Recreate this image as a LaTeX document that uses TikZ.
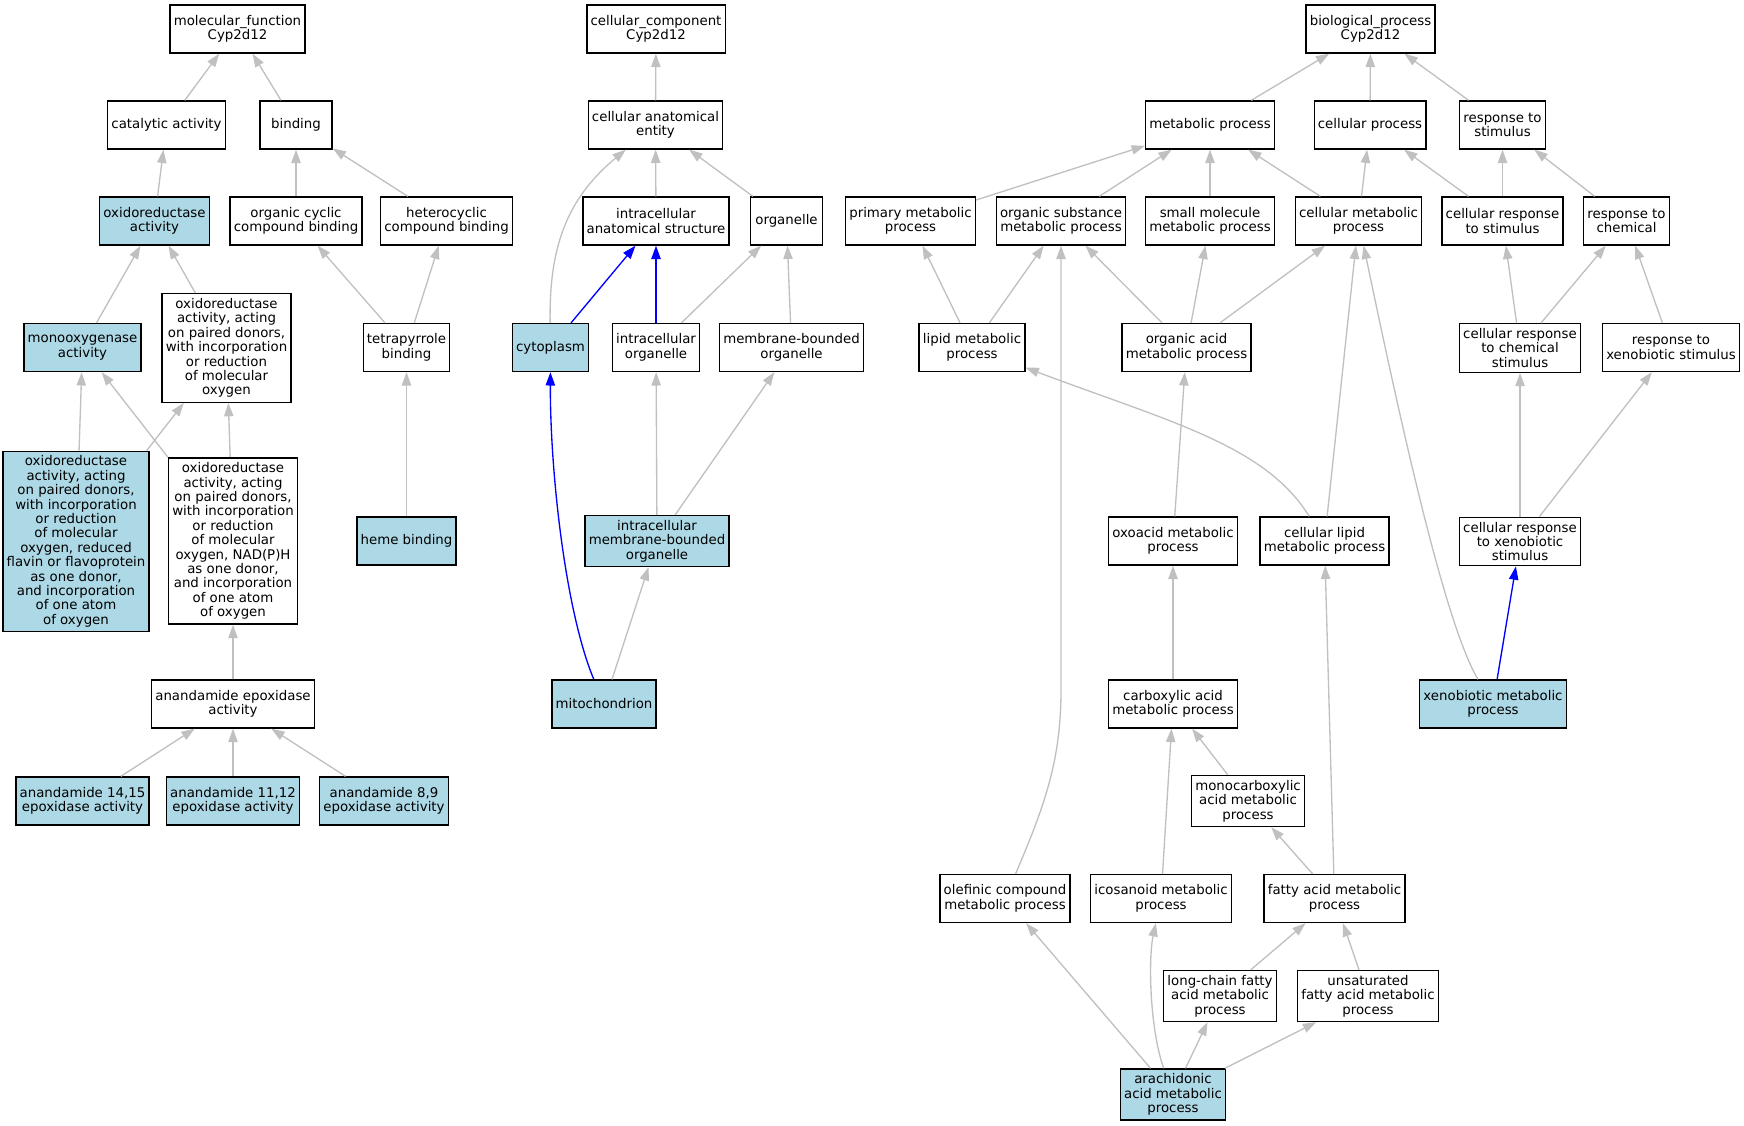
\documentclass[tikz,border=0pt]{standalone}
\usepackage{fontspec}
\setmainfont{DejaVu Sans}
\usetikzlibrary{arrows.meta}
\definecolor{hitblue}{HTML}{ADD8E6}
\definecolor{isagray}{HTML}{C0C0C0}
\begin{document}
\begin{tikzpicture}[
    x=0.75pt, y=-0.75pt,
    term/.style={draw=black, line width=1pt, rectangle, align=center, inner xsep=2.8pt, inner ysep=3.5pt,
      minimum width=54pt, minimum height=36pt, font=\fontsize{10}{10.8}\selectfont},
    hit/.style={term, fill=hitblue},
    isa/.style={draw=isagray, line width=1pt, -{Triangle[length=10pt,width=7pt]}},
    hot/.style={isa, draw=blue}
    ]
    \useasboundingbox (0,0) rectangle (1744,1125);
    % molecular function
    \node[term] (mf) at (237.5,29) {molecular\_function\\Cyp2d12};
    \node[term] (cat) at (166.5,125) {catalytic activity};
    \node[term] (bind) at (296,125) {binding};
    \node[hit] (oxred) at (154.5,221) {oxidoreductase\\activity};
    \node[term] (occb) at (296,221) {organic cyclic\\compound binding};
    \node[term] (hcb) at (446.5,221) {heterocyclic\\compound binding};
    \node[hit] (mono) at (82.5,347.5) {monooxygenase\\activity};
    \node[term] (oxpair) at (226.5,348) {oxidoreductase\\activity, acting\\on paired donors,\\with incorporation\\or reduction\\of molecular\\oxygen};
    \node[term] (tetra) at (406.5,347.5) {tetrapyrrole\\binding};
    \node[hit] (oxflav) at (76,541.5) {oxidoreductase\\activity, acting\\on paired donors,\\with incorporation\\or reduction\\of molecular\\oxygen, reduced\\flavin or flavoprotein\\as one donor,\\and incorporation\\of one atom\\of oxygen};
    \node[term] (oxnad) at (233,541) {oxidoreductase\\activity, acting\\on paired donors,\\with incorporation\\or reduction\\of molecular\\oxygen, NAD(P)H\\as one donor,\\and incorporation\\of one atom\\of oxygen};
    \node[hit] (heme) at (406.5,541) {heme binding};
    \node[term] (aepox) at (233,704) {anandamide epoxidase\\activity};
    \node[hit] (a1415) at (82.5,801) {anandamide 14,15\\epoxidase activity};
    \node[hit] (a1112) at (233,801) {anandamide 11,12\\epoxidase activity};
    \node[hit] (a89) at (384,801) {anandamide 8,9\\epoxidase activity};
    % cellular component
    \node[term] (cc) at (656,29) {cellular\_component\\Cyp2d12};
    \node[term] (cae) at (655.5,125) {cellular anatomical\\entity};
    \node[term] (ias) at (656,221) {intracellular\\anatomical structure};
    \node[term] (org) at (786.5,221) {organelle};
    \node[hit] (cyto) at (550.5,347.5) {cytoplasm};
    \node[term] (iorg) at (656,347.5) {intracellular\\organelle};
    \node[term] (mbo) at (791.5,347.5) {membrane-bounded\\organelle};
    \node[hit] (imbo) at (657,541) {intracellular\\membrane-bounded\\organelle};
    \node[hit] (mito) at (604,704) {mitochondrion};
    % biological process
    \node[term] (bp) at (1370.5,29) {biological\_process\\Cyp2d12};
    \node[term] (met) at (1210,125) {metabolic process};
    \node[term] (cp) at (1370,125) {cellular process};
    \node[term] (rts) at (1502.5,125) {response to\\stimulus};
    \node[term] (pmp) at (910.5,221) {primary metabolic\\process};
    \node[term] (osmp) at (1061,221) {organic substance\\metabolic process};
    \node[term] (smmp) at (1210,221) {small molecule\\metabolic process};
    \node[term] (cmp) at (1358.5,221) {cellular metabolic\\process};
    \node[term] (crs) at (1502.5,221) {cellular response\\to stimulus};
    \node[term] (rtc) at (1626.5,221) {response to\\chemical};
    \node[term] (lmp) at (972,347.5) {lipid metabolic\\process};
    \node[term] (oamp) at (1186.5,347.5) {organic acid\\metabolic process};
    \node[term] (crcs) at (1520,348) {cellular response\\to chemical\\stimulus};
    \node[term] (rtxs) at (1671,347.5) {response to\\xenobiotic stimulus};
    \node[term] (oxo) at (1173,541) {oxoacid metabolic\\process};
    \node[term] (clmp) at (1324.5,541) {cellular lipid\\metabolic process};
    \node[term] (crxs) at (1520,541.5) {cellular response\\to xenobiotic\\stimulus};
    \node[term] (carb) at (1173,704) {carboxylic acid\\metabolic process};
    \node[hit] (xmp) at (1493,704) {xenobiotic metabolic\\process};
    \node[term] (monoc) at (1248,801) {monocarboxylic\\acid metabolic\\process};
    \node[term] (olef) at (1005,898.5) {olefinic compound\\metabolic process};
    \node[term] (icos) at (1161,898.5) {icosanoid metabolic\\process};
    \node[term] (fatty) at (1334.5,898.5) {fatty acid metabolic\\process};
    \node[term] (lcfa) at (1220,996) {long-chain fatty\\acid metabolic\\process};
    \node[term] (unsat) at (1368,996) {unsaturated\\fatty acid metabolic\\process};
    \node[hit] (arach) at (1173,1094.5) {arachidonic\\acid metabolic\\process};
    % is_a edges
    \draw[isa] (cat) -- (mf);
    \draw[isa] (bind) -- (mf);
    \draw[isa] (oxred) -- (cat);
    \draw[isa] (occb) -- (bind);
    \draw[isa] (hcb) -- (bind);
    \draw[isa] (mono) -- (oxred);
    \draw[isa] (oxpair) -- (oxred);
    \draw[isa] (tetra) -- (occb);
    \draw[isa] (tetra) -- (hcb);
    \draw[isa] (oxflav) -- (mono);
    \draw[isa] (oxflav) -- (oxpair);
    \draw[isa] (oxnad) -- (mono);
    \draw[isa] (oxnad) -- (oxpair);
    \draw[isa] (heme) -- (tetra);
    \draw[isa] (aepox) -- (oxnad);
    \draw[isa] (a1415) -- (aepox);
    \draw[isa] (a1112) -- (aepox);
    \draw[isa] (a89) -- (aepox);
    \draw[isa] (cae) -- (cc);
    \draw[isa] (ias) -- (cae);
    \draw[isa] (org) -- (cae);
    \draw[isa] (cyto) .. controls (549,250) and (565,200) .. (cae);
    \draw[hot] (cyto) -- (ias);
    \draw[hot] (iorg) -- (ias);
    \draw[isa] (iorg) -- (org);
    \draw[isa] (mbo) -- (org);
    \draw[isa] (imbo) -- (iorg);
    \draw[isa] (imbo) -- (mbo);
    \draw[hot] (mito) .. controls (565,610) and (550,470) .. (cyto);
    \draw[isa] (mito) -- (imbo);
    \draw[isa] (met) -- (bp);
    \draw[isa] (cp) -- (bp);
    \draw[isa] (rts) -- (bp);
    \draw[isa] (pmp) -- (met);
    \draw[isa] (osmp) -- (met);
    \draw[isa] (smmp) -- (met);
    \draw[isa] (cmp) -- (met);
    \draw[isa] (cmp) -- (cp);
    \draw[isa] (crs) -- (cp);
    \draw[isa] (crs) -- (rts);
    \draw[isa] (rtc) -- (rts);
    \draw[isa] (lmp) -- (pmp);
    \draw[isa] (lmp) -- (osmp);
    \draw[isa] (oamp) -- (osmp);
    \draw[isa] (oamp) -- (smmp);
    \draw[isa] (oamp) -- (cmp);
    \draw[isa] (crcs) -- (crs);
    \draw[isa] (crcs) -- (rtc);
    \draw[isa] (rtxs) -- (rtc);
    \draw[isa] (olef) .. controls (1045,805) and (1061,760) .. (1061,690) -- (osmp);
    \draw[isa] (oxo) -- (oamp);
    \draw[isa] (clmp) .. controls (1265,445) and (1170,422) .. (lmp);
    \draw[isa] (clmp) -- (cmp);
    \draw[isa] (xmp) .. controls (1445,625) and (1400,420) .. (cmp);
    \draw[isa] (crxs) -- (crcs);
    \draw[isa] (crxs) -- (rtxs);
    \draw[hot] (xmp) -- (crxs);
    \draw[isa] (carb) -- (oxo);
    \draw[isa] (icos) -- (carb);
    \draw[isa] (monoc) -- (carb);
    \draw[isa] (fatty) -- (monoc);
    \draw[isa] (fatty) -- (clmp);
    \draw[isa] (lcfa) -- (fatty);
    \draw[isa] (unsat) -- (fatty);
    \draw[isa] (arach) -- (olef);
    \draw[isa] (arach) .. controls (1150,1030) and (1148,960) .. (icos);
    \draw[isa] (arach) -- (lcfa);
    \draw[isa] (arach) -- (unsat);
  \end{tikzpicture}
\end{document}
